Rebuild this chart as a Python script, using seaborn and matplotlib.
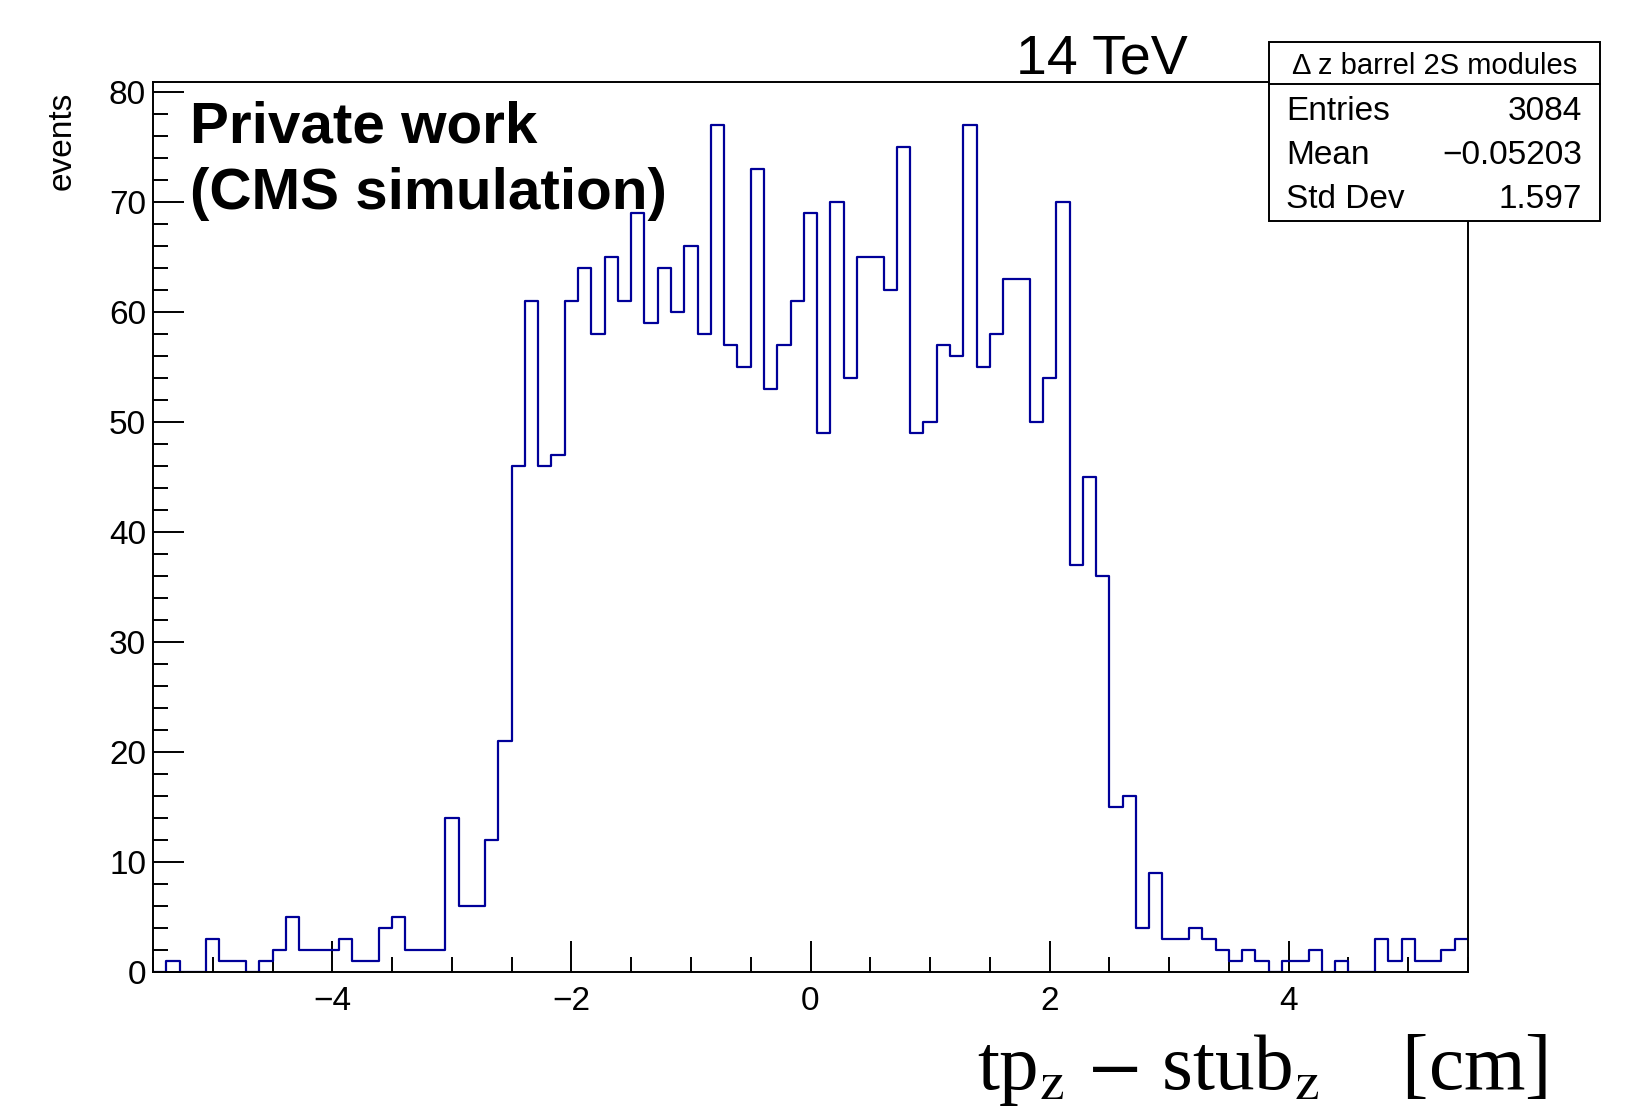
import numpy as np
import pandas as pd
import seaborn as sns
import matplotlib.pyplot as plt
from matplotlib.patches import Rectangle
from matplotlib.ticker import MultipleLocator

# histogram contents, 99 bins between -5.5 and 5.5
counts = [0, 1, 0, 0, 3, 1, 1, 0, 1, 2,
          5, 2, 2, 2, 3, 1, 1, 4, 5, 2,
          2, 2, 14, 6, 6, 12, 21, 46, 61, 46,
          47, 61, 64, 58, 65, 61, 69, 59, 64, 60,
          66, 58, 77, 57, 55, 73, 53, 57, 61, 69,
          49, 70, 54, 65, 65, 62, 75, 49, 50, 57,
          56, 77, 55, 58, 63, 63, 50, 54, 70, 37,
          45, 36, 15, 16, 4, 9, 3, 3, 4, 3,
          2, 1, 2, 1, 0, 1, 1, 2, 0, 1,
          0, 0, 3, 1, 3, 1, 1, 2, 3]
x_lo, x_hi, n_bins = -5.5, 5.5, 99
y_max = 80.85

stats_title = "\u0394 z barrel 2S modules"
stats_labels = ["Entries", "Mean", "Std Dev"]
stats_values = ["3084", "\u22120.05203", "1.597"]

sns.set_style("ticks")
plt.rcParams['font.family'] = ['Liberation Sans', 'DejaVu Sans']
plt.rcParams['mathtext.fontset'] = 'stix'
plt.rcParams['text.color'] = 'black'
plt.rcParams['axes.labelcolor'] = 'black'
plt.rcParams['xtick.color'] = 'black'
plt.rcParams['ytick.color'] = 'black'

W, H = 1634, 1109
fig = plt.figure(figsize=(W / 100, H / 100), dpi=100)
ax = fig.add_axes([153 / W, 1 - 971.7 / H, (1468 - 153) / W, (971.7 - 82.3) / H])

edges = np.linspace(x_lo, x_hi, n_bins + 1)
centers = (edges[:-1] + edges[1:]) / 2
df = pd.DataFrame({"dz": centers, "n": counts})
sns.histplot(data=df, x="dz", weights="n", bins=n_bins, binrange=(x_lo, x_hi),
             element="step", fill=False, color="#000099", linewidth=1.6, ax=ax)

ax.set_xlim(x_lo, x_hi)
ax.set_ylim(0, y_max)
ax.set_xlabel("")
ax.set_ylabel("")
ax.xaxis.set_major_locator(MultipleLocator(2))
ax.xaxis.set_minor_locator(MultipleLocator(0.5))
ax.yaxis.set_major_locator(MultipleLocator(10))
ax.yaxis.set_minor_locator(MultipleLocator(2))
ax.tick_params(which='both', direction='in', top=False, right=False, width=1.4,
               labelsize=24, colors='black')
ax.tick_params(which='major', length=22)
ax.tick_params(which='minor', length=11)
ax.tick_params(axis='y', pad=5)
ax.tick_params(axis='x', pad=10)
for s in ax.spines.values():
    s.set_linewidth(1.4)
    s.set_color("black")

# labels
fig.text(62.5 / W, 1 - 92 / H, "events", rotation=90, ha='center', va='top', fontsize=24)
fig.text(1547 / W, 1 - 1089 / H, r"tp$_\mathrm{z}$ $-$ stub$_\mathrm{z}$    [cm]",
         ha='right', va='baseline', fontsize=57, family='Liberation Serif')
fig.text(190 / W, 1 - 142.7 / H, "Private work", fontsize=42, fontweight='bold', va='baseline')
fig.text(190 / W, 1 - 209 / H, "(CMS simulation)", fontsize=42, fontweight='bold', va='baseline')
fig.text(1016 / W, 1 - 73 / H, "14 TeV", fontsize=40, va='baseline')

# stats box
bx0, bx1, by0, by1, bdiv = 1269, 1600, 41.7, 221, 84.4
box = Rectangle((bx0 / W, 1 - by1 / H), (bx1 - bx0) / W, (by1 - by0) / H,
                transform=fig.transFigure, facecolor='white', edgecolor='black',
                linewidth=1.4, zorder=5)
fig.add_artist(box)
fig.add_artist(plt.Line2D([bx0 / W, bx1 / W], [1 - bdiv / H, 1 - bdiv / H],
                          transform=fig.transFigure, color='black', linewidth=1.4, zorder=6))
fig.text((bx0 + bx1) / 2 / W, 1 - 66 / H, stats_title, ha='center', va='center',
         fontsize=21, zorder=7)
for i, (lab, val) in enumerate(zip(stats_labels, stats_values)):
    yy = 1 - (112 + 43.5 * i) / H
    fig.text(1286 / W, yy, lab, ha='left', va='center', fontsize=24, zorder=7)
    fig.text(1582 / W, yy, val, ha='right', va='center', fontsize=24, zorder=7)

fig.savefig("out.png", dpi=100)
